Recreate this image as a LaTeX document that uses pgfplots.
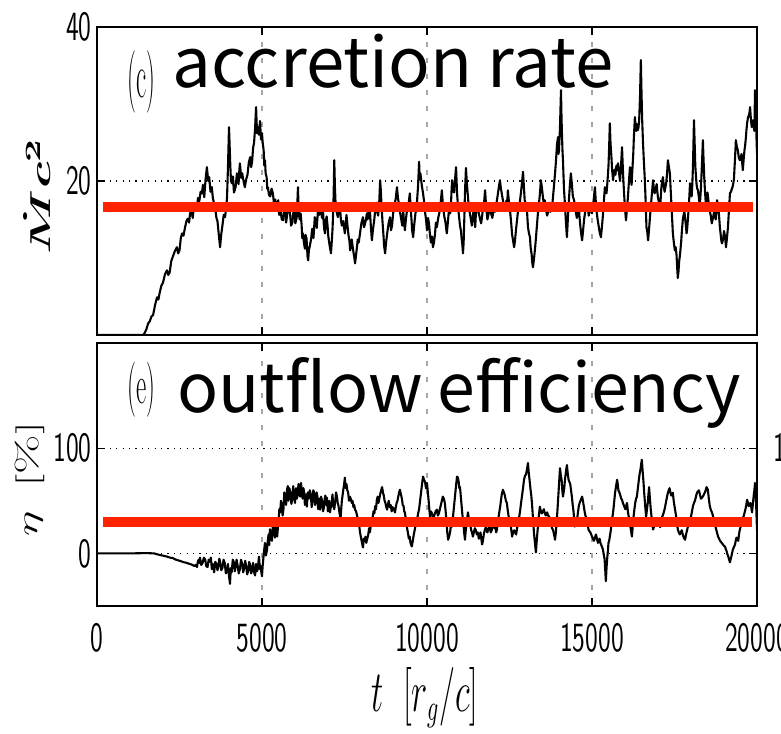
\documentclass[border=0pt]{standalone}
\usepackage{graphicx}
\usepackage{fontspec}
\usepackage{pgfplots}
\pgfplotsset{compat=1.18}
\newfontfamily\jpfont{Noto Sans CJK JP}
\definecolor{meanred}{RGB}{255,35,0}
\newcommand\tl[1]{\scalebox{1}[1.6]{\fontsize{13}{13}\selectfont\sffamily #1}}
\pgfplotsset{
  panel/.style={
    scale only axis, width=330pt, xmin=0, xmax=20000,
    scaled x ticks=false, scaled y ticks=false,
    axis line style={line width=1.3pt},
    tick style={black, line width=0.7pt},
    major tick length=4pt, tick align=inside,
    xtick={0,5000,10000,15000,20000},
    xmajorgrids, ymajorgrids,
    x grid style={gray!70, line width=0.7pt, dash pattern=on 2.5pt off 5.5pt},
    y grid style={black, line width=0.6pt, dash pattern=on 0.6pt off 2.6pt},
    yticklabel style={anchor=east, inner sep=0pt, xshift=-2.5pt},
    xticklabel style={anchor=north, inner sep=0pt, yshift=-8.5pt},
  }
}
\begin{document}
\begin{tikzpicture}
\begin{axis}[panel, at={(48.5pt,-13.5pt)}, anchor=north west, height=154pt,
  ymin=0, ymax=40, ytick={20,40}, yticklabels={\tl{20},\tl{40}}, xticklabels={}]
\addplot[black, line width=1.05pt, line join=round] coordinates {
(0,0) (1400,0) (1450,0.3) (1500,0.8) (1550,1.5) (1600,1.8) (1650,2.4) (1700,2.6) (1760,3.9) (1820,4.9) (1860,4.6) (1900,5.5) (1950,6.4) (2000,6.8) (2060,7.9) (2120,8.4) (2160,7.8) (2200,8.1) (2250,9.6) (2300,10.2) (2360,10.9) (2420,11.4) (2460,10.6) (2500,11.0) (2540,12.6) (2580,13.2) (2620,12.9) (2670,14.0) (2710,14.8) (2750,15.1) (2790,14.6) (2820,15.8) (2860,16.2) (2900,15.2) (2930,16.4) (2960,17.0) (3000,16.1) (3030,16.6) (3060,17.8) (3100,17.4) (3140,18.6) (3180,18.4) (3210,19.5) (3250,17.9) (3290,20.2) (3330,21.8) (3370,20.0) (3400,20.5) (3440,18.6) (3480,19.2) (3510,17.8) (3550,17.0) (3590,16.2) (3620,15.2) (3650,14.8) (3680,13.5) (3700,12.6) (3730,11.4) (3760,12.9) (3800,14.2) (3840,15.6) (3880,15.3) (3910,16.4) (3940,17.8) (3970,22.0) (4000,27.0) (4020,24.5) (4040,22.0) (4060,20.0) (4090,19.7) (4120,20.6) (4150,18.5) (4200,19.2) (4240,21.0) (4260,20.2) (4290,19.6) (4310,21.2) (4330,22.3) (4370,20.4) (4400,21.0) (4440,20.0) (4480,19.2) (4520,20.2) (4560,20.8) (4600,22.4) (4640,23.1) (4670,21.8) (4700,22.5) (4730,24.3) (4760,25.0) (4790,26.8) (4820,29.6) (4850,26.2) (4880,27.0) (4910,26.0) (4940,27.8) (4970,25.4) (5000,26.2)
(5020,25.0) (5050,24.0) (5070,22.0) (5090,22.7) (5110,21.0) (5140,20.5) (5160,19.0) (5180,19.2) (5210,18.2) (5250,18.0) (5290,19.0) (5330,18.4) (5360,17.2) (5400,17.6) (5440,16.4) (5490,17.5) (5520,15.6) (5560,16.2) (5600,15.0) (5640,14.9) (5670,16.2) (5700,17.0) (5730,14.6) (5760,15.5) (5800,16.6) (5850,15.8) (5880,14.2) (5920,14.6) (5950,15.9) (5980,16.8) (6010,14.5) (6050,15.2) (6070,17.0) (6090,19.2) (6110,16.0) (6140,15.0) (6170,15.8) (6200,14.3) (6220,12.6) (6240,13.2) (6270,12.0) (6300,11.2) (6320,13.0) (6350,12.5) (6380,10.2) (6400,9.7) (6420,11.0) (6450,11.6) (6490,12.5) (6520,13.8) (6560,12.6) (6600,15.3) (6630,14.6) (6660,13.9) (6680,15.2) (6700,16.5) (6730,15.6) (6760,17.1) (6790,16.0) (6820,15.2) (6850,16.1) (6870,14.5) (6890,13.6) (6910,13.2) (6930,14.8) (6960,15.4) (6990,14.0) (7010,12.8) (7050,11.6) (7090,10.6) (7120,12.5) (7140,14.0) (7170,18.0) (7190,22.7) (7210,19.2) (7230,17.0) (7260,16.0) (7300,15.3) (7330,16.5) (7360,16.8) (7390,15.0) (7420,14.2) (7460,14.8) (7510,13.2) (7540,14.6) (7560,15.6) (7590,14.2) (7620,13.0) (7650,12.2) (7670,11.0) (7700,11.6) (7720,12.4) (7750,11.4) (7770,10.8) (7800,10.0) (7820,9.3) (7850,10.4) (7880,11.5) (7900,12.4) (7930,12.0) (7950,12.6) (7970,13.2) (8010,14.5) (8060,15.3) (8090,14.0) (8120,14.4) (8150,15.0) (8180,15.8) (8200,15.0) (8230,16.2) (8250,15.2) (8270,16.2) (8300,14.0) (8330,12.3) (8360,13.6) (8400,14.9) (8430,16.2) (8470,17.2) (8490,16.0) (8520,15.5) (8550,17.0) (8580,20.1) (8600,18.8) (8620,17.0) (8650,14.8) (8680,13.0) (8700,11.6) (8730,10.6) (8760,12.0) (8800,13.4) (8840,14.6) (8880,15.3) (8910,13.6) (8940,14.2) (8970,15.6) (9000,16.8) (9050,17.6) (9090,19.2) (9120,17.8) (9150,17.0) (9180,16.0) (9220,15.0) (9250,14.2) (9280,16.2) (9300,14.8) (9330,13.6) (9360,15.0) (9400,16.4) (9440,17.0) (9480,18.4) (9500,16.8) (9530,15.0) (9550,13.6) (9580,12.7) (9610,14.2) (9650,15.8) (9680,16.4) (9700,17.5) (9730,19.4) (9760,22.5) (9780,20.2) (9800,21.0) (9840,19.5) (9880,18.4) (9910,17.4) (9940,16.0) (9970,15.0)
(10000,13.6) (10030,15.2) (10060,14.5) (10090,13.0) (10120,12.0) (10150,12.8) (10180,11.4) (10210,12.0) (10240,13.0) (10270,14.6) (10300,14.0) (10340,15.2) (10380,16.0) (10420,17.4) (10450,18.8) (10480,17.0) (10520,15.5) (10560,14.6) (10600,13.2) (10640,15.0) (10680,17.0) (10700,15.8) (10720,16.2) (10740,18.4) (10760,20.1) (10790,19.2) (10820,18.5) (10850,20.2) (10880,21.8) (10910,18.5) (10940,16.6) (10970,15.4) (11000,14.2) (11030,13.5) (11050,12.5) (11070,11.8) (11090,10.6) (11110,12.0) (11130,15.0) (11150,18.4) (11180,21.7) (11210,19.6) (11240,18.0) (11270,16.4) (11300,15.8) (11330,15.0) (11360,14.2) (11390,15.4) (11420,16.5) (11440,15.2) (11460,14.0) (11480,15.6) (11510,17.1) (11550,16.2) (11580,15.6) (11610,15.0) (11640,14.5) (11670,15.4) (11700,16.8) (11730,17.2) (11760,18.8) (11790,16.8) (11830,15.0) (11870,15.8) (11910,16.6) (11940,15.8) (11980,15.2) (12020,16.4) (12060,16.0) (12100,17.0) (12130,17.8) (12170,19.0) (12210,20.1) (12240,19.0) (12280,18.0) (12320,17.0) (12360,16.2) (12380,16.8) (12410,17.5) (12430,17.0) (12450,18.8) (12480,17.4) (12520,16.0) (12550,14.6) (12580,13.0) (12610,12.2) (12640,11.4) (12670,12.4) (12700,13.8) (12730,15.0) (12760,16.2) (12790,16.6) (12820,17.5) (12860,19.0) (12910,21.2) (12940,19.0) (12960,17.5) (13000,17.0) (13030,16.2) (13045,15.0) (13060,14.0) (13090,13.2) (13120,12.7) (13140,11.4) (13170,10.5) (13190,9.4) (13210,8.8) (13240,9.8) (13280,11.5) (13320,13.6) (13360,15.8) (13380,16.6) (13410,17.8) (13430,18.8) (13450,20.1) (13480,19.2) (13510,18.0) (13540,17.0) (13570,17.5) (13600,16.4) (13640,15.5) (13670,16.0) (13700,17.2) (13740,16.0) (13790,16.6) (13820,18.0) (13850,19.5) (13880,21.0) (13910,22.7) (13940,24.8) (13970,25.7) (13985,23.5) (14000,24.0) (14030,27.0) (14060,31.8) (14075,28.5) (14090,26.0) (14105,24.0) (14120,22.7) (14150,19.0) (14180,17.0) (14210,14.6) (14240,12.7) (14270,15.2) (14300,17.5) (14330,19.5) (14360,21.0) (14390,19.6) (14420,18.0) (14450,17.6) (14480,17.0) (14510,16.0) (14540,15.2) (14570,15.8) (14600,16.8) (14620,15.4) (14650,14.0) (14670,13.2) (14700,12.3) (14730,13.6) (14760,15.0) (14780,15.6) (14800,16.2) (14830,16.8) (14850,17.1) (14880,16.4) (14900,15.5) (14920,16.0) (14950,16.5) (14980,16.2)
(15000,15.8) (15020,16.6) (15050,17.5) (15070,18.4) (15090,19.2) (15110,17.6) (15140,16.0) (15170,15.0) (15200,14.2) (15230,13.4) (15270,12.7) (15300,14.0) (15330,15.5) (15360,17.4) (15390,19.2) (15410,18.6) (15440,18.4) (15470,20.0) (15500,22.0) (15520,24.5) (15540,27.5) (15560,25.0) (15590,23.0) (15610,21.4) (15640,20.1) (15660,21.0) (15690,21.5) (15710,20.8) (15740,22.0) (15760,21.4) (15790,22.3) (15820,21.0) (15850,20.0) (15880,22.0) (15910,24.4) (15940,21.0) (15970,18.5) (16000,16.4) (16030,14.9) (16060,16.4) (16090,18.0) (16120,20.0) (16150,21.8) (16170,20.4) (16200,19.5) (16220,21.2) (16250,23.5) (16270,25.8) (16300,28.3) (16320,27.2) (16340,26.5) (16360,27.4) (16390,26.6) (16410,27.0) (16430,28.0) (16455,31.0) (16480,35.7) (16500,31.5) (16520,28.0) (16545,25.0) (16570,22.7) (16600,20.2) (16620,18.0) (16635,16.0) (16650,14.0) (16675,13.4) (16700,12.3) (16730,13.8) (16760,15.5) (16800,17.6) (16850,20.1) (16875,19.0) (16900,18.4) (16930,19.0) (16960,19.6) (16980,18.6) (17000,17.8) (17030,17.2) (17060,16.6) (17080,17.6) (17100,19.0) (17120,19.8) (17150,20.5) (17175,19.4) (17200,18.6) (17225,19.2) (17250,19.8) (17275,21.0) (17300,22.7) (17330,21.8) (17360,21.0) (17380,19.2) (17400,17.5) (17425,15.4) (17450,13.2) (17480,12.0) (17510,11.0) (17535,11.4) (17560,10.5) (17580,8.8) (17600,7.4) (17620,8.2) (17640,9.5) (17670,10.6) (17700,12.0) (17725,13.6) (17750,14.9) (17775,15.6) (17800,16.0) (17825,15.0) (17850,14.0) (17865,13.2) (17880,13.6) (17905,15.0) (17930,16.5) (17950,18.0) (17970,19.7) (17995,19.0) (18020,18.0) (18040,19.6) (18060,22.0) (18075,25.0) (18090,27.9) (18110,25.0) (18130,22.0) (18150,20.6) (18170,19.5) (18190,19.0) (18210,18.8) (18235,18.0) (18260,17.0) (18280,17.6) (18300,19.0) (18330,22.0) (18360,25.3) (18380,22.8) (18400,20.5) (18425,18.6) (18450,17.0) (18475,17.8) (18500,18.5) (18530,17.4) (18560,16.2) (18595,15.6) (18630,14.5) (18665,15.2) (18700,16.0) (18725,15.4) (18750,15.0) (18770,16.0) (18790,17.5) (18820,16.8) (18850,15.5) (18875,14.0) (18900,13.0) (18920,12.2) (18940,11.9) (18970,12.4) (19000,13.5) (19030,12.8) (19060,11.4) (19090,12.6) (19120,14.0) (19150,16.2) (19180,18.4) (19210,18.6) (19240,19.0) (19270,19.4) (19300,20.2) (19330,22.6) (19360,25.3) (19390,24.4) (19420,24.0) (19450,23.0) (19480,22.7) (19505,23.0) (19530,23.5) (19550,22.4) (19570,21.4) (19595,22.8) (19620,24.0) (19640,24.6) (19660,25.5) (19680,26.6) (19700,27.5) (19725,28.2) (19750,28.5) (19770,28.8) (19790,29.6) (19815,28.0) (19840,27.0) (19860,27.4) (19880,27.9) (19900,27.0) (19920,26.5) (19930,29.0) (19940,31.8) (19955,30.0) (19970,28.0) (19985,25.5) (20000,23.6)
};
\addplot[meanred, line width=5pt] coordinates {(180,16.6) (19870,16.6)};
\end{axis}
\begin{axis}[panel, at={(48.5pt,-171.5pt)}, anchor=north west, height=131.5pt,
  ymin=-50, ymax=200, ytick={0,100}, yticklabels={\tl{0},\tl{100}},
  xticklabels={\tl{0},\tl{5000},\tl{10000},\tl{15000},\tl{20000}}]
\addplot[black, line width=1.05pt, line join=round] coordinates {
(0,0) (500,0) (1000,0) (1500,0.3) (1730,0) (1900,-1.5) (2010,-2.2) (2120,-3) (2210,-4.0) (2300,-4.5) (2380,-5.8) (2450,-6.5) (2540,-7.4) (2640,-8.5) (2720,-9.0) (2800,-10) (2870,-10.6) (2950,-12) (2990,-11) (3030,-13) (3055,-8) (3080,-6) (3100,-9) (3120,-4) (3160,-11) (3200,-9) (3240,-4) (3280,-6) (3310,-12) (3350,-13) (3385,-6) (3420,-8) (3450,-4) (3480,-15) (3515,-10) (3550,-18) (3585,-8) (3620,-10) (3650,-16) (3680,-12) (3705,-5) (3730,-7.6) (3765,-16) (3800,-14) (3835,-6) (3870,-9) (3905,-19) (3940,-16) (3970,-10) (4000,-22) (4015,-25) (4030,-29) (4055,-14) (4080,-18) (4115,-6) (4150,-8.5) (4175,-17) (4200,-13) (4230,-6) (4260,-11) (4295,-19) (4330,-15) (4365,-6) (4400,-10) (4430,-18) (4460,-14) (4490,-7) (4520,-12) (4550,-20) (4580,-17) (4610,-8) (4640,-11) (4670,-19) (4700,-16) (4730,-9) (4760,-18) (4790,-21) (4820,-10) (4850,-17) (4880,-14) (4895,-7) (4910,-3) (4935,-15) (4960,-12) (4980,-18) (5000,-21.7)
(5020,-12) (5040,-5) (5065,3) (5090,10) (5120,-2) (5150,3) (5175,12) (5200,18) (5220,8) (5240,23) (5270,18) (5300,12) (5330,28) (5360,25) (5390,15) (5420,20) (5440,30) (5460,16) (5480,24) (5500,30) (5525,42) (5550,39) (5575,50) (5600,45) (5625,36) (5650,42) (5675,58) (5700,55) (5730,46) (5760,60.5) (5780,64) (5800,50) (5830,62) (5860,58) (5890,47) (5920,52) (5945,64) (5970,54) (6000,48) (6030,62) (6055,52) (6080,55) (6105,66) (6130,63) (6155,54) (6180,67) (6205,60) (6230,52) (6255,62) (6280,58) (6300,46) (6320,49) (6340,56) (6360,44.5) (6390,58) (6420,52) (6450,60) (6480,56) (6505,44) (6530,50) (6555,60) (6580,57.7) (6605,46) (6630,48) (6655,58) (6680,54) (6700,42) (6720,45) (6740,52) (6760,41.6) (6790,54) (6820,50) (6850,40) (6880,44) (6900,52) (6920,55) (6945,46) (6970,53) (6995,40) (7020,44) (7040,50) (7060,39) (7085,44) (7110,47) (7135,56) (7160,45) (7190,42) (7220,50) (7245,58) (7270,54) (7295,48) (7320,45) (7350,38) (7380,33) (7400,42) (7420,50) (7445,56) (7470,62) (7490,66) (7510,72) (7535,62) (7560,66) (7585,60) (7610,58) (7635,50) (7660,54) (7690,52) (7720,48) (7745,50) (7770,44) (7795,46) (7820,41.6) (7850,40) (7880,36) (7910,32) (7940,28) (7970,20) (8000,15) (8030,10) (8060,5.7) (8085,14) (8110,12) (8135,16) (8160,10) (8190,14) (8220,18) (8245,24) (8270,20) (8295,26) (8320,28) (8350,34) (8380,40) (8405,38) (8430,45) (8455,42) (8480,51) (8505,54) (8530,48) (8555,52) (8580,56) (8610,60) (8640,63) (8665,58) (8690,55) (8715,50) (8740,48) (8765,44) (8790,41.6) (8815,46) (8840,50) (8870,44) (8900,46) (8930,40) (8960,44) (8995,42) (9030,39) (9055,44) (9080,48) (9105,50) (9130,54) (9155,58) (9180,60.5) (9210,56) (9240,52) (9265,46) (9290,45) (9310,40) (9330,39) (9360,32) (9390,25) (9420,20) (9450,14) (9475,16) (9500,10) (9520,8) (9540,6.6) (9570,12) (9600,18) (9625,22) (9650,26) (9675,30) (9700,32) (9730,38) (9760,42) (9790,50) (9820,58) (9850,66) (9880,73) (9910,70) (9940,68) (9970,62)
(10000,67) (10025,58) (10050,50) (10070,42) (10090,35) (10120,40) (10150,38) (10185,34) (10220,36) (10260,40) (10300,41.6) (10330,36) (10360,38) (10390,42) (10420,46) (10450,50) (10480,54) (10510,52) (10540,48) (10565,40) (10590,30) (10615,20) (10640,13) (10670,16) (10700,20) (10730,28) (10760,25.5) (10785,34) (10810,42) (10835,50) (10860,58) (10885,66) (10910,73) (10935,72) (10960,68) (10980,62) (11000,63) (11025,54) (11050,45) (11075,36) (11100,30) (11125,20) (11150,13) (11175,22) (11200,28) (11220,34) (11240,39) (11265,34) (11290,30) (11315,26) (11340,22) (11365,20) (11390,16) (11420,20) (11450,24) (11480,22) (11510,18) (11540,20) (11570,14) (11595,16) (11620,20) (11645,14) (11670,8.5) (11695,12) (11720,18) (11750,22) (11780,25) (11805,22) (11830,20) (11865,24) (11900,26) (11930,20) (11960,22) (11990,26) (12020,28) (12045,24) (12070,25) (12095,20) (12120,22.7) (12145,30) (12170,35) (12195,40) (12220,45) (12240,50) (12260,55) (12280,58) (12300,60.5) (12330,58) (12360,55) (12390,50) (12420,48) (12450,40) (12480,34) (12505,30) (12530,28) (12555,22) (12580,16) (12610,20) (12640,22) (12670,20) (12700,18) (12730,24) (12760,30) (12790,34) (12820,40) (12850,48) (12880,55) (12910,62) (12940,70) (12970,74) (13000,75) (13030,80) (13060,86) (13080,78) (13100,72) (13120,66) (13140,60) (13160,55) (13180,48) (13210,34) (13240,20) (13270,10) (13300,1) (13330,14) (13360,25) (13390,36) (13420,44.5) (13450,40) (13480,38) (13510,40) (13540,42) (13570,38) (13600,36) (13620,38) (13640,39) (13670,36) (13700,35) (13730,30) (13760,28) (13790,24) (13820,22) (13850,18) (13880,13) (13905,20) (13930,30) (13955,42) (13980,55) (14005,68) (14030,81) (14055,74) (14080,70) (14100,60) (14120,54) (14140,58) (14160,62) (14180,70) (14200,75) (14220,80) (14240,84) (14265,76) (14290,70) (14315,68) (14340,66) (14365,60) (14390,54) (14415,46) (14440,40) (14460,32) (14480,25.5) (14510,28) (14540,30) (14570,38) (14600,45) (14625,48) (14650,50) (14675,52) (14700,54) (14725,50) (14750,45) (14775,40) (14800,36) (14825,34) (14850,32) (14875,26) (14900,22) (14925,21) (14950,20) (14975,18)
(15000,16) (15030,14) (15060,12) (15090,15) (15120,18) (15150,14) (15180,10) (15205,12) (15230,14) (15255,10) (15280,8) (15305,6) (15330,3.8) (15355,-1) (15380,-5) (15400,-15) (15420,-26.5) (15440,-14) (15460,-5) (15480,2) (15500,10) (15520,12) (15540,16) (15570,22) (15600,30) (15625,36) (15650,42) (15675,50) (15700,58) (15730,64) (15760,70) (15780,66) (15800,60) (15830,58) (15860,55) (15885,52) (15910,51) (15935,48) (15960,46) (15985,44) (16010,42) (16035,45) (16060,48) (16075,44) (16090,39) (16120,34) (16150,28) (16180,22) (16210,16) (16235,26) (16260,35) (16285,42) (16310,48) (16335,52) (16360,54) (16390,62) (16420,70) (16445,76) (16470,80) (16490,85) (16510,89) (16535,78) (16560,68) (16580,58) (16600,50) (16620,42) (16640,35) (16665,42) (16690,48) (16710,56) (16730,63) (16755,52) (16780,42) (16800,36) (16820,30) (16835,26) (16850,22.7) (16875,25) (16900,28) (16925,27) (16950,26) (16980,28) (17010,30) (17040,27) (17070,25) (17100,30) (17130,35) (17165,38) (17200,42) (17225,46) (17250,50) (17275,54) (17300,57.7) (17325,60) (17350,62) (17375,58) (17400,55) (17425,56) (17450,57.7) (17475,50) (17500,45) (17525,40) (17550,35) (17575,28) (17600,22.7) (17630,20) (17660,18) (17690,20) (17720,22) (17750,18) (17780,15) (17800,14) (17820,13) (17850,18) (17880,22) (17910,26) (17940,30) (17970,32) (18000,35) (18030,40) (18060,45) (18090,48) (18120,50) (18150,54) (18180,57.7) (18210,59) (18240,60) (18270,56) (18300,52) (18330,53) (18360,54) (18390,56) (18420,58) (18445,60) (18470,63) (18490,62) (18510,60.5) (18540,52) (18570,45) (18595,42) (18620,40) (18645,38) (18670,35) (18695,30) (18720,28) (18745,25) (18770,22) (18795,19) (18820,16) (18850,14) (18880,12) (18905,11) (18930,10) (18955,9) (18980,8) (19005,7) (19030,6.6) (19055,4) (19080,2) (19105,-1) (19130,-3) (19155,-6) (19180,-8.5) (19205,-5) (19230,-2) (19250,1) (19270,3.8) (19300,6) (19330,8) (19355,12) (19380,15) (19405,13) (19430,12) (19455,18) (19480,22.7) (19510,26) (19540,30) (19570,33) (19600,36) (19625,39) (19650,42) (19675,46) (19700,51) (19725,48) (19750,45) (19775,46) (19800,48) (19825,44) (19850,39) (19875,47) (19900,55) (19920,60) (19940,67) (19955,58) (19970,50) (19985,36) (20000,22.7)
};
\addplot[meanred, line width=5pt] coordinates {(180,29.8) (19850,29.8)};
\end{axis}
% panel titles
\node[anchor=west, inner sep=0pt] at (63.5pt,-40.75pt) {\scalebox{0.5}[1.25]{\fontsize{25}{25}\selectfont (c)}};
\node[anchor=base west, inner sep=0pt] at (86pt,-44pt) {\fontsize{34.5}{34.5}\selectfont\jpfont accretion rate};
\node[anchor=west, inner sep=0pt] at (63.5pt,-195pt) {\scalebox{0.5}[1.1]{\fontsize{25}{25}\selectfont (e)}};
\node[anchor=base west, inner sep=0pt] at (88.5pt,-206pt) {\fontsize{34}{34}\selectfont\jpfont outflow efficiency};
% axis labels
\node[rotate=90, inner sep=0pt] at (18.5pt,-98pt) {\scalebox{1.8}[1]{\fontsize{15}{15}\selectfont\boldmath$\dot{M}c^2$}};
\node[rotate=90, inner sep=0pt] at (15pt,-239.5pt) {\scalebox{1.7}[1]{\fontsize{15}{15}\selectfont$\eta\ \,[\%]$}};
\node[inner sep=0pt] at (212.5pt,-349pt) {\scalebox{1}[1.7]{\fontsize{16}{16}\selectfont$t\ \ [r_g/c]$}};
\node[anchor=west, inner sep=0pt] at (386.5pt,-224pt) {\tl{100}};
\pgfresetboundingbox
\path[use as bounding box] (0,0) rectangle (390.5pt,-366.5pt);
\end{tikzpicture}
\end{document}
